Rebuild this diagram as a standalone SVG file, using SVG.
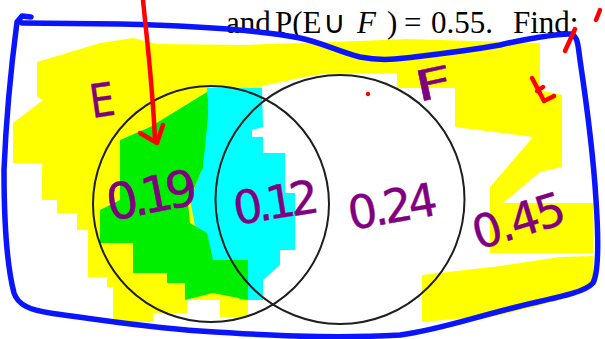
<svg xmlns="http://www.w3.org/2000/svg" width="605" height="339" viewBox="0 0 605 339">
<style>
.hl-y{fill:#ffff00}
.hl-c{fill:#00ffff}
.hl-g{fill:#00ee00}
.ring{fill:none;stroke:#1e1e1e;stroke-width:2}
.ink-r{fill:none;stroke:#ff0000;stroke-width:4.5;stroke-linecap:round;stroke-linejoin:round}
.ink-b{fill:none;stroke:#0a14ff;stroke-width:5.5;stroke-linecap:round;stroke-linejoin:round}
.hand{font-family:"DejaVu Sans","Liberation Sans",sans-serif;fill:#800080;stroke:#800080;stroke-width:0.4}
.print{font-family:"Liberation Serif","Times New Roman",serif;font-size:31px;fill:#000}
</style>
<rect width="605" height="339" fill="#ffffff"/>
<g id="highlights">
<polygon class="hl-y" points="37,62 67,53 100,43 133,38 157,44 243,45 300,43 300,78 262,86 262,100 230,150 210,262 248,262 248,317 220,317 220,300 187,300 187,313 153,313 153,322 113,322 113,287 107,287 107,277 88,277 88,230 77,230 77,213 57,213 57,200 42,200 42,163 13,163 13,123 43,100 37,97"/>
<polygon class="hl-y" points="298,43 333,42 407,39 540,43 540,90 562,95 562,167 540,172 503,203 593,203 593,253 490,253 490,187 533,137 455,127 455,88 397,88 397,73 323,74 298,78"/>
<polygon class="hl-y" points="422,275 500,266 560,257 593,256 593,284 560,300 500,315 422,322"/>
<polygon class="hl-c" points="207,88 262,88 263,127 252,130 252,137 263,137 263,153 285,153 285,193 295,193 295,250 280,250 280,265 263,280 263,300 240,300 200,250 190,200 203,167"/>
<polygon class="hl-g" points="120,140 150,127 207,92 208,100 208,117 203,167 188,203 190,223 207,233 213,260 248,260 248,300 213,293 185,300 185,283 167,283 167,273 133,273 133,243 100,243 100,210 120,200"/>
</g>
<g id="venn">
<circle id="circleE" class="ring" cx="211" cy="204" r="118"/>
<circle id="circleF" class="ring" cx="340" cy="199.5" r="124.5"/>
</g>
<g id="header">
<text class="print" y="33"><tspan x="226">and</tspan><tspan x="275">P(E</tspan><tspan x="323">∪</tspan><tspan x="357" font-style="italic">F</tspan><tspan x="387">)</tspan><tspan x="404">=</tspan><tspan x="431">0.55.</tspan><tspan x="513">Find:</tspan></text>
</g>
<g id="labels">
<text class="hand" x="92" y="118" font-size="46" textLength="25" lengthAdjust="spacingAndGlyphs" transform="rotate(-8 92 118)">E</text>
<text class="hand" x="418" y="102" font-size="42" textLength="38" lengthAdjust="spacingAndGlyphs" transform="rotate(-12 418 102)">F</text>
<text class="hand" x="110" y="221" font-size="50" textLength="92" lengthAdjust="spacing" transform="rotate(-11 110 221)">0.19</text>
<text class="hand" x="236" y="225" font-size="46" textLength="86" lengthAdjust="spacing" transform="rotate(-9 236 225)">0.12</text>
<text class="hand" x="351" y="230" font-size="46" textLength="90" lengthAdjust="spacing" transform="rotate(-10 351 230)">0.24</text>
<text class="hand" x="478" y="250" font-size="46" textLength="95" lengthAdjust="spacing" transform="rotate(-17 478 250)">0.45</text>
</g>
<g id="border">
<path class="ink-b" d="M31,17 L22,16 L17,22 C12,60 6,120 4,170 C4,230 8,270 14,293 C18,305 30,310 50,313 C100,320 150,328 200,331 C260,335 330,339 400,335 C440,330 480,315 533,303 C560,297 585,292 593,283 C600,270 598,230 596,200 C593,150 586,100 580,60 C578,45 578,38 572,34 C560,33 520,40 500,45 C460,52 430,55 405,58 C390,60 375,60 360,57 C340,52 320,42 300,38 C260,30 200,26 120,24 L22,23"/>
</g>
<g id="connectors">
<path class="ink-r" d="M143,0 C147,40 153,90 155,141"/>
<path class="ink-r" d="M140,133 L157,143 L163,125"/>
<path class="ink-r" d="M600,10 L596,20"/>
<path class="ink-r" d="M575,29 L565,51"/>
<path class="ink-r" d="M532,78 L544,101 L554,96 M537,91 L543,87"/>
<circle cx="368" cy="94" r="2.2" fill="#ff0000"/>
</g>
</svg>
